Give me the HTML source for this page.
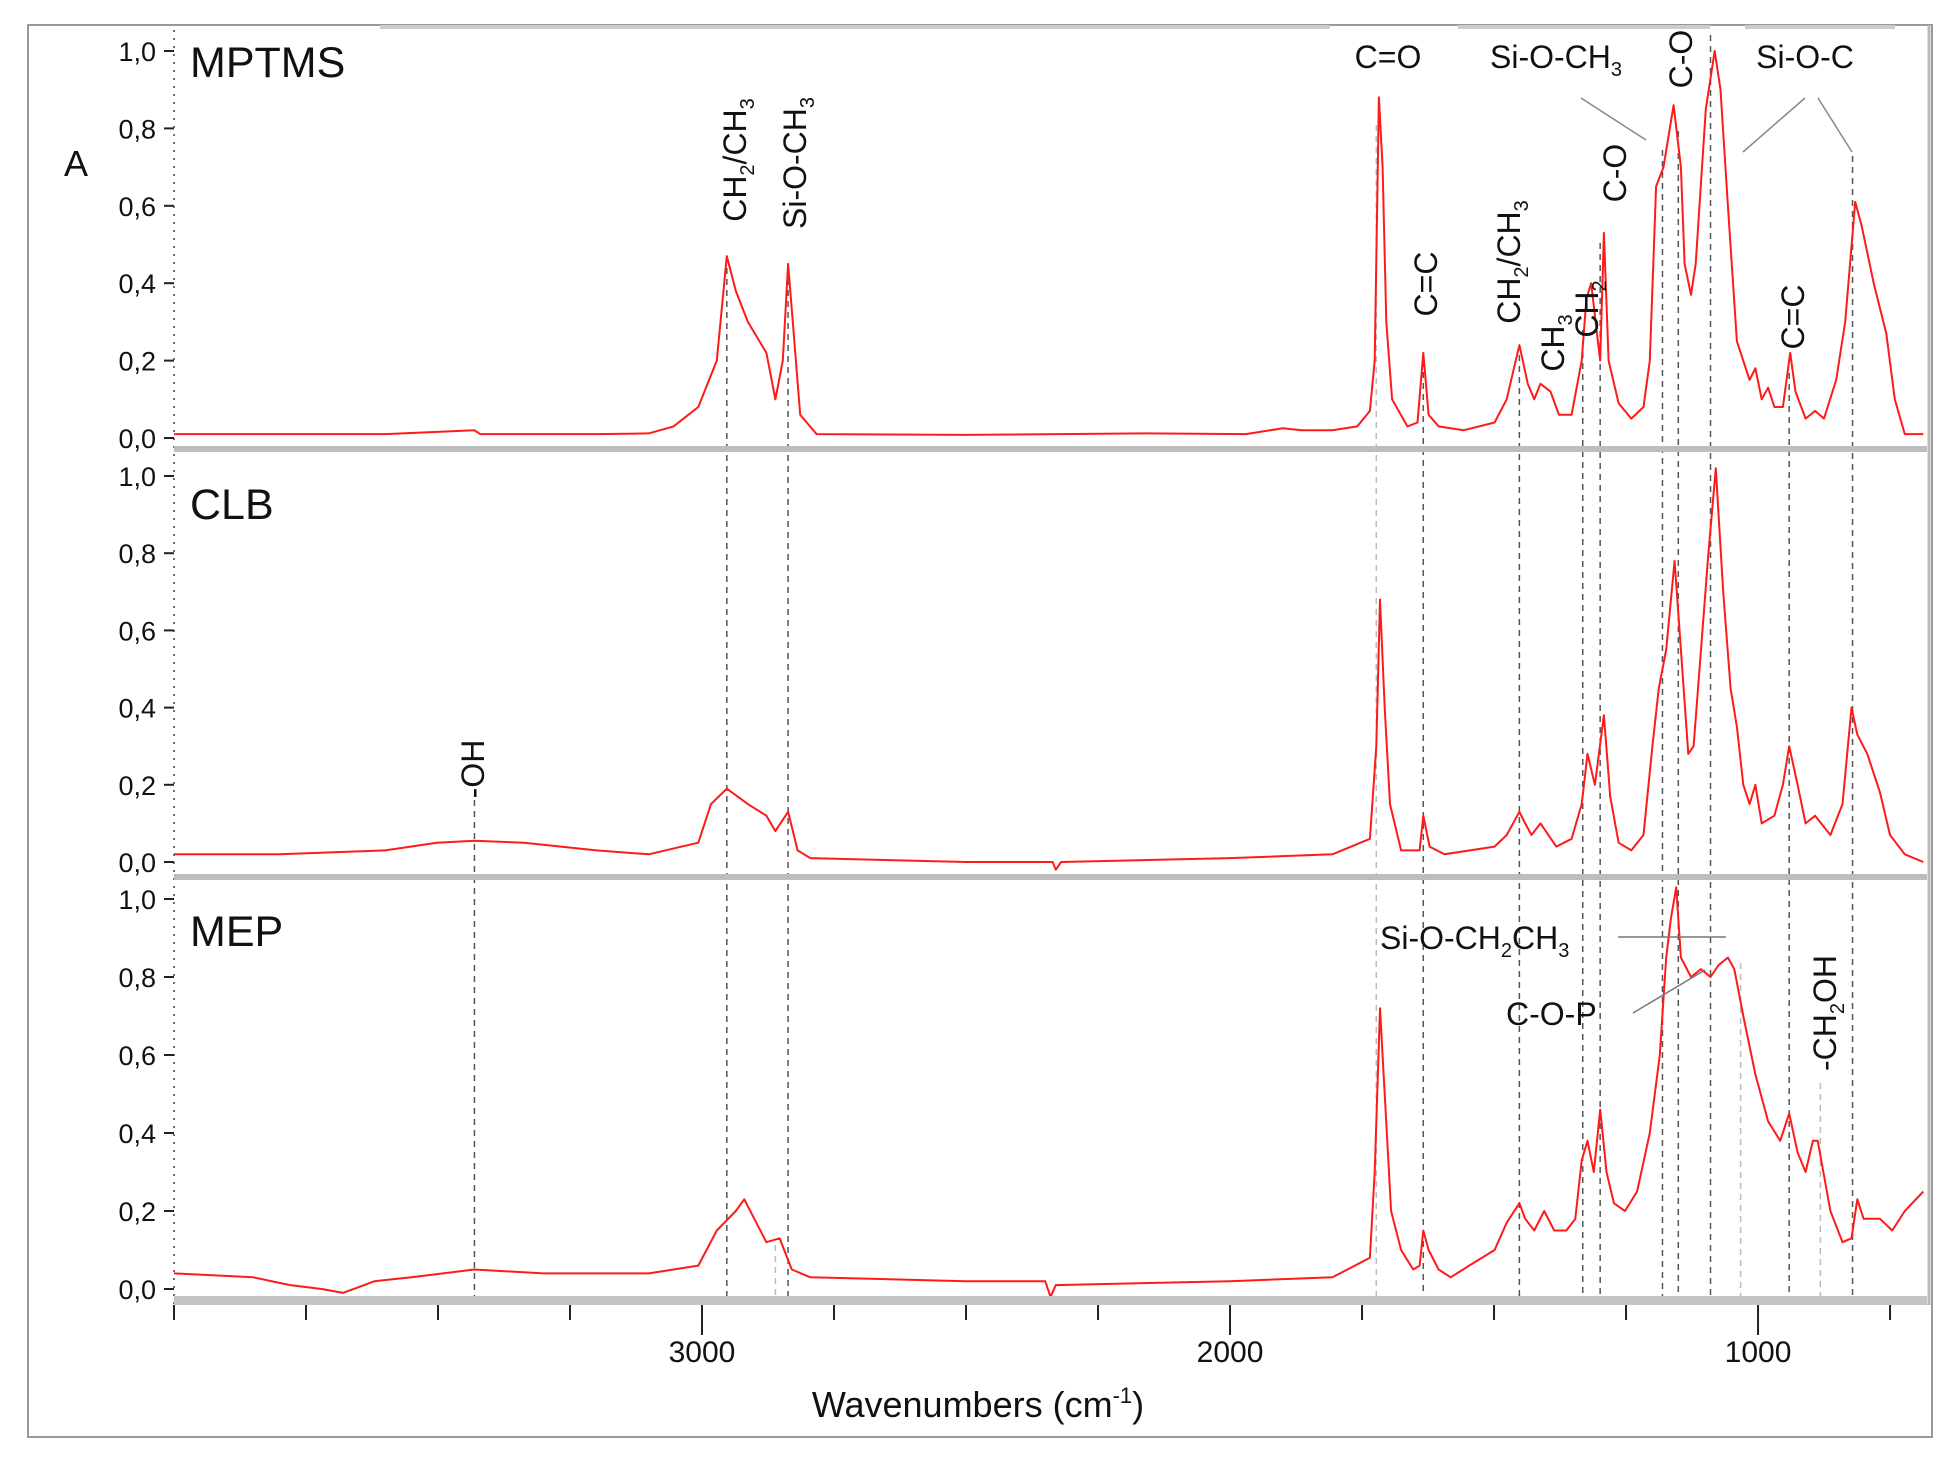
<!DOCTYPE html>
<html><head><meta charset="utf-8">
<style>
html,body{margin:0;padding:0;background:#fff;}
svg{display:block;}
text{font-family:"Liberation Sans",sans-serif;fill:#111;}
</style></head>
<body>
<svg id="chart" width="1952" height="1458" viewBox="0 0 1952 1458" xmlns="http://www.w3.org/2000/svg">
<rect x="0" y="0" width="1952" height="1458" fill="#fff"/>
<rect x="28" y="25" width="1904" height="1412" fill="none" stroke="#999" stroke-width="2"/>
<line x1="380" y1="27" x2="1330" y2="27" stroke="#ccc" stroke-width="4"/>
<line x1="1458" y1="27" x2="1710" y2="27" stroke="#ccc" stroke-width="4"/>
<line x1="1745" y1="27" x2="1895" y2="27" stroke="#ccc" stroke-width="4"/>
<g id="grid"></g>
<g id="series"></g>
<g id="axes"></g>
<g id="labels">
<text x="64" y="176" font-size="36">A</text>
<text x="190" y="77" font-size="43">MPTMS</text>
<text x="190" y="519" font-size="43">CLB</text>
<text x="190" y="946" font-size="43">MEP</text>
<text x="978" y="1417" font-size="36" text-anchor="middle">Wavenumbers (cm<tspan font-size="22" dy="-14">-1</tspan><tspan dy="14">)</tspan></text>

<text x="1388" y="68" font-size="32" text-anchor="middle">C=O</text>
<text x="1490" y="68" font-size="32">Si-O-CH<tspan font-size="20" dy="8">3</tspan></text>
<text x="1805" y="68" font-size="32" text-anchor="middle">Si-O-C</text>
<line x1="1581" y1="98" x2="1646" y2="140" stroke="#888" stroke-width="1.5"/>
<line x1="1805" y1="98" x2="1743" y2="152" stroke="#888" stroke-width="1.5"/>
<line x1="1818" y1="98" x2="1852" y2="152" stroke="#888" stroke-width="1.5"/>

<text transform="translate(1692,59) rotate(-90)" font-size="32" text-anchor="middle">C-O</text>
<text transform="translate(746,160) rotate(-90)" font-size="32" text-anchor="middle">CH<tspan font-size="20" dy="8">2</tspan><tspan dy="-8">/CH</tspan><tspan font-size="20" dy="8">3</tspan></text>
<text transform="translate(806,163) rotate(-90)" font-size="32" text-anchor="middle">Si-O-CH<tspan font-size="20" dy="8">3</tspan></text>
<text transform="translate(1437,284) rotate(-90)" font-size="32" text-anchor="middle">C=C</text>
<text transform="translate(1520,262) rotate(-90)" font-size="32" text-anchor="middle">CH<tspan font-size="20" dy="8">2</tspan><tspan dy="-8">/CH</tspan><tspan font-size="20" dy="8">3</tspan></text>
<text transform="translate(1564,343) rotate(-90)" font-size="32" text-anchor="middle">CH<tspan font-size="20" dy="8">3</tspan></text>
<text transform="translate(1598,309) rotate(-90)" font-size="32" text-anchor="middle">CH<tspan font-size="20" dy="8">2</tspan></text>
<text transform="translate(1626,173) rotate(-90)" font-size="32" text-anchor="middle">C-O</text>
<text transform="translate(1804,317) rotate(-90)" font-size="32" text-anchor="middle">C=C</text>

<text transform="translate(484,769) rotate(-90)" font-size="32" text-anchor="middle">-OH</text>

<text x="1380" y="949" font-size="32">Si-O-CH<tspan font-size="20" dy="8">2</tspan><tspan dy="-8">CH</tspan><tspan font-size="20" dy="8">3</tspan></text>
<line x1="1618" y1="937" x2="1726" y2="937" stroke="#777" stroke-width="1.5"/>
<text x="1506" y="1025" font-size="32">C-O-P</text>
<line x1="1633" y1="1013" x2="1705" y2="970" stroke="#777" stroke-width="1.5"/>
<text transform="translate(1836,1013) rotate(-90)" font-size="32" text-anchor="middle">-CH<tspan font-size="20" dy="8">2</tspan><tspan dy="-8">OH</tspan></text>
</g>
</svg>
<script>
// ---- data ----
const wnMPTMS = [4000,3600,3431,3420,3200,3101,3054,3007,2972,2953,2936,2913,2878,2861,2847,2837,2828,2814,2783,2500,2159,1970,1900,1865,1806,1759,1735,1726,1718,1711,1704,1693,1664,1645,1634,1624,1605,1558,1499,1476,1464,1452,1436,1424,1412,1393,1377,1353,1334,1325,1316,1306,1299,1292,1283,1264,1240,1217,1205,1193,1179,1160,1146,1139,1127,1118,1099,1082,1071,1057,1040,1016,1005,993,981,969,953,939,929,910,892,875,852,835,816,804,781,757,741,722,687];
const absMPTMS = [0.01,0.01,0.02,0.01,0.01,0.012,0.03,0.08,0.2,0.47,0.38,0.3,0.22,0.1,0.2,0.45,0.3,0.06,0.01,0.008,0.012,0.01,0.025,0.02,0.02,0.03,0.07,0.2,0.88,0.7,0.3,0.1,0.03,0.04,0.22,0.06,0.03,0.02,0.04,0.1,0.17,0.24,0.14,0.1,0.14,0.12,0.06,0.06,0.2,0.36,0.4,0.28,0.2,0.53,0.2,0.09,0.05,0.08,0.2,0.65,0.7,0.86,0.7,0.45,0.37,0.45,0.85,1.0,0.9,0.6,0.25,0.15,0.18,0.1,0.13,0.08,0.08,0.22,0.12,0.05,0.07,0.05,0.15,0.3,0.61,0.55,0.4,0.27,0.1,0.01,0.01];
const wnCLB = [4000,3800,3600,3502,3431,3337,3200,3101,3007,2983,2953,2913,2878,2861,2837,2819,2795,2500,2336,2330,2320,2000,1806,1735,1723,1716,1707,1697,1676,1641,1634,1622,1594,1499,1476,1452,1441,1429,1412,1382,1353,1334,1323,1309,1292,1280,1264,1240,1217,1200,1188,1174,1158,1146,1132,1122,1108,1094,1080,1066,1052,1040,1028,1016,1005,993,969,953,941,925,910,892,863,840,823,812,793,769,750,722,687];
const absCLB = [0.02,0.02,0.03,0.05,0.055,0.05,0.03,0.02,0.05,0.15,0.19,0.15,0.12,0.08,0.13,0.03,0.01,0.0,0.0,-0.02,0.0,0.01,0.02,0.06,0.3,0.68,0.4,0.15,0.03,0.03,0.12,0.04,0.02,0.04,0.07,0.13,0.1,0.07,0.1,0.04,0.06,0.15,0.28,0.2,0.38,0.17,0.05,0.03,0.07,0.3,0.45,0.55,0.78,0.55,0.28,0.3,0.55,0.8,1.02,0.7,0.45,0.35,0.2,0.15,0.2,0.1,0.12,0.2,0.3,0.2,0.1,0.12,0.07,0.15,0.4,0.33,0.28,0.18,0.07,0.02,0.0];
const wnMEP = [4000,3850,3780,3720,3680,3620,3550,3431,3300,3101,3007,2972,2936,2920,2901,2878,2853,2830,2795,2500,2350,2340,2330,2000,1806,1735,1726,1716,1707,1695,1676,1653,1641,1634,1624,1605,1582,1547,1499,1476,1452,1441,1424,1405,1386,1363,1346,1334,1323,1311,1299,1287,1273,1252,1229,1205,1186,1174,1165,1155,1146,1127,1108,1090,1075,1057,1045,1028,1005,981,958,941,925,910,896,887,863,840,823,812,800,769,746,722,687];
const absMEP = [0.04,0.03,0.01,0.0,-0.01,0.02,0.03,0.05,0.04,0.04,0.06,0.15,0.2,0.23,0.18,0.12,0.13,0.05,0.03,0.02,0.02,-0.02,0.01,0.02,0.03,0.08,0.3,0.72,0.5,0.2,0.1,0.05,0.06,0.15,0.1,0.05,0.03,0.06,0.1,0.17,0.22,0.18,0.15,0.2,0.15,0.15,0.18,0.33,0.38,0.3,0.46,0.3,0.22,0.2,0.25,0.4,0.6,0.85,0.95,1.03,0.85,0.8,0.82,0.8,0.83,0.85,0.82,0.7,0.55,0.43,0.38,0.45,0.35,0.3,0.38,0.38,0.2,0.12,0.13,0.23,0.18,0.18,0.15,0.2,0.25];
const yTickValues = [0.0,0.2,0.4,0.6,0.8,1.0];
const yTickLabels = ["0,0","0,2","0,4","0,6","0,8","1,0"];
const xTickValues = [3000,2000,1000];
const xTickLabels = ["3000","2000","1000"];
const markerWn = [3431,2953,2837,2861,1723,1634,1452,1332,1299,1181,1151,1090,1033,941,882,821];

// ---- layout ----
const NS="http://www.w3.org/2000/svg";
const X0=174, X1=1927, W0=4000, W1=680;
const xS = w => X0 + (W0-w)/(W0-W1)*(X1-X0);
const panels = [{y0:438,y1:51},{y0:862,y1:476},{y0:1289,y1:899}];
const yS = (p,a) => panels[p].y0 - a*(panels[p].y0-panels[p].y1);
function mk(tag, attrs, parent){const e=document.createElementNS(NS,tag);for(const k in attrs)e.setAttribute(k,attrs[k]);parent.appendChild(e);return e;}
const grid=document.getElementById('grid'), series=document.getElementById('series'), axes=document.getElementById('axes');

// marker lines: start y, end y, color
const markerStyle = {3431:[800,1300,'#555'],2953:[268,1300,'#555'],2837:[268,1300,'#555'],2861:[1245,1300,'#bbb'],1723:[125,1300,'#bbb'],1634:[361,1300,'#555'],1452:[355,1300,'#555'],1332:[330,1300,'#555'],1299:[243,1300,'#555'],1181:[150,1300,'#555'],1151:[131,1300,'#555'],1090:[35,1300,'#555'],1033:[963,1300,'#bbb'],941:[373,1300,'#555'],882:[1083,1300,'#bbb'],821:[156,1300,'#555']};
markerWn.forEach(w=>{
  const s=markerStyle[w];
  const l=mk('line',{x1:xS(w),x2:xS(w),y1:s[0],y2:s[1],stroke:s[2],'stroke-width':1.5,'stroke-dasharray':'6,5'},grid);
  
  
});

// spectra
[[wnMPTMS,absMPTMS,'spectrum-mptms'],[wnCLB,absCLB,'spectrum-clb'],[wnMEP,absMEP,'spectrum-mep']].forEach((d,p)=>{
  const pts=d[0].map((w,i)=>xS(w).toFixed(1)+','+yS(p,d[1][i]).toFixed(1)).join(' ');
  const pl=mk('polyline',{points:pts,fill:'none',stroke:'#ff1a1a','stroke-width':2,'stroke-linejoin':'round'},series);
  
  
});

// axes
const lAx=mk('line',{x1:X0,x2:X0,y1:30,y2:1305,stroke:'#444','stroke-width':1.5,'stroke-dasharray':'2,6'},axes);


const dividers=[449,877];
dividers.forEach((y,i)=>{
  const r=mk('rect',{x:X0,y:y-3,width:X1-X0,height:6,fill:'#bdbdbd'},axes);
  
  
});
const bAx=mk('rect',{x:X0,y:1296,width:X1-X0,height:9,fill:'#c4c4c4'},axes);


const rAx=mk('line',{x1:X1+2,x2:X1+2,y1:25,y2:1305,stroke:'#bbb','stroke-width':3},axes);



panels.forEach((pn,p)=>{
  yTickValues.forEach((v,i)=>{
    const y=yS(p,v);
    const t=mk('line',{x1:X0-10,x2:X0,y1:y,y2:y,stroke:'#222','stroke-width':2},axes);
    
    
    const tx=mk('text',{x:X0-18,y:y+10,'font-size':27,'text-anchor':'end'},axes);
    tx.textContent=yTickLabels[i];
    
    
  });
});
for(let w=4000; w>=700; w-=250){
  const major = xTickValues.indexOf(w)>=0;
  const t=mk('line',{x1:xS(w),x2:xS(w),y1:1305,y2:major?1335:1320,stroke:'#222','stroke-width':2},axes);
  
  
}
xTickValues.forEach((w,i)=>{
  const tx=mk('text',{x:xS(w),y:1362,'font-size':30,'text-anchor':'middle'},axes);
  tx.textContent=xTickLabels[i];
  
  
});
</script>
</body></html>
